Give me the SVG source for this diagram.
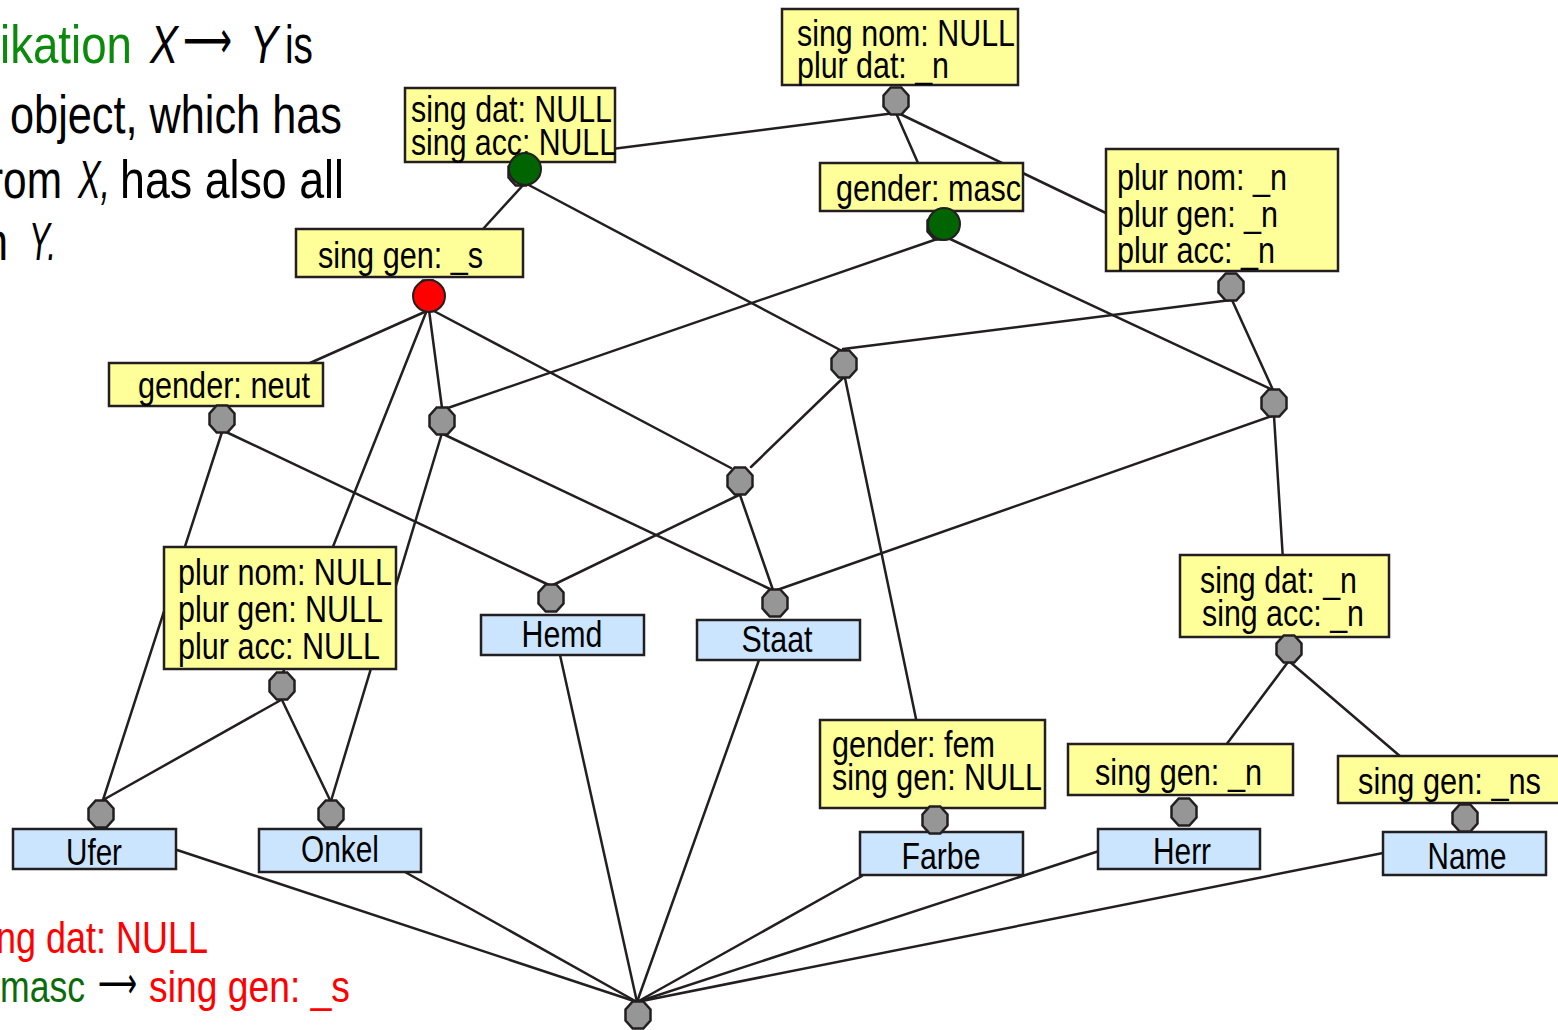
<svg xmlns="http://www.w3.org/2000/svg" xmlns:xlink="http://www.w3.org/1999/xlink" width="1558" height="1030" viewBox="0 0 1558 1030">
<style>
.box{fill:#ffff99;stroke:#231f20;stroke-width:2.5}
.word{fill:#cce5ff;stroke:#231f20;stroke-width:2.5}
.t{font-family:"Liberation Sans Narrow","Liberation Sans",Arial,sans-serif;font-size:37px;fill:#000}
.c{text-anchor:middle}
.big{font-family:"Liberation Sans Narrow","Liberation Sans",Arial,sans-serif;font-size:53px;fill:#000}
.low{font-family:"Liberation Sans Narrow","Liberation Sans",Arial,sans-serif;font-size:44px}
.it{font-style:italic}
.grn{fill:#0b8a0b}
.dgrn{fill:#0b6b0b}
.red{fill:#ff0000}
.arr{font-family:"DejaVu Sans",sans-serif;fill:#000}
#connectors line{stroke:#231f20;stroke-width:2.5;stroke-linecap:round}
.oct{fill:#969696;stroke:#231f20;stroke-width:2.5}
.gdot{fill:#006400;stroke:#231f20;stroke-width:2}
.rdot{fill:#ff0000;stroke:#231f20;stroke-width:2}
</style>
<defs>
<polygon id="oct" points="5.3,-13.5 12.5,-5.6 12.5,5.6 5.3,13.5 -5.3,13.5 -12.5,5.6 -12.5,-5.6 -5.3,-13.5"/>
</defs>
<rect width="1558" height="1030" fill="#ffffff"/>

<g id="text-top">
<text class="big grn" x="0" y="63" textLength="132" lengthAdjust="spacingAndGlyphs">ikation</text>
<text class="big it" x="150" y="63" textLength="28" lengthAdjust="spacingAndGlyphs">X</text>
<text class="big arr" x="183" y="58" textLength="49" lengthAdjust="spacingAndGlyphs">⟶</text>
<text class="big it" x="250" y="63" textLength="28" lengthAdjust="spacingAndGlyphs">Y</text>
<text class="big" x="285" y="63" textLength="28" lengthAdjust="spacingAndGlyphs">is</text>
<text class="big" x="10" y="133" textLength="332" lengthAdjust="spacingAndGlyphs">object, which has</text>
<text class="big" x="-11" y="198" textLength="73" lengthAdjust="spacingAndGlyphs">rom</text>
<text class="big it" x="78" y="198" textLength="32" lengthAdjust="spacingAndGlyphs">X,</text>
<text class="big" x="120" y="198" textLength="224" lengthAdjust="spacingAndGlyphs">has also all</text>
<text class="big" x="-16" y="260" textLength="24" lengthAdjust="spacingAndGlyphs">n</text>
<text class="big it" x="29" y="260" textLength="27" lengthAdjust="spacingAndGlyphs">Y.</text>
</g>

<g id="text-bottom">
<text class="low red" x="-4" y="953" textLength="212" lengthAdjust="spacingAndGlyphs">ng dat: NULL</text>
<text class="low dgrn" x="0" y="1002" textLength="85" lengthAdjust="spacingAndGlyphs">masc</text>
<text class="low arr" x="98" y="998" textLength="39" lengthAdjust="spacingAndGlyphs">⟶</text>
<text class="low red" x="149" y="1002" textLength="201" lengthAdjust="spacingAndGlyphs">sing gen: _s</text>
</g>

<g id="connectors">
<line x1="895" y1="113" x2="525" y2="160"/>
<line x1="896" y1="113" x2="918" y2="163"/>
<line x1="898" y1="113" x2="1108" y2="214"/>
<line x1="525" y1="183" x2="483" y2="229"/>
<line x1="525" y1="183" x2="844" y2="352"/>
<line x1="940" y1="238" x2="442" y2="410"/>
<line x1="948" y1="238" x2="1273" y2="390"/>
<line x1="1231" y1="300" x2="843" y2="349"/>
<line x1="1232" y1="300" x2="1273" y2="390"/>
<line x1="429" y1="310" x2="310" y2="363"/>
<line x1="427" y1="310" x2="282" y2="675"/>
<line x1="429" y1="310" x2="442" y2="408"/>
<line x1="432" y1="310" x2="731" y2="468"/>
<line x1="222" y1="432" x2="103" y2="800"/>
<line x1="224" y1="431" x2="549" y2="585"/>
<line x1="442" y1="433" x2="331" y2="801"/>
<line x1="443" y1="434" x2="772" y2="590"/>
<line x1="843" y1="378" x2="751" y2="467"/>
<line x1="845" y1="378" x2="935" y2="810"/>
<line x1="1272" y1="416" x2="777" y2="590"/>
<line x1="1274" y1="416" x2="1283" y2="560"/>
<line x1="739" y1="495" x2="553" y2="585"/>
<line x1="740" y1="495" x2="773" y2="590"/>
<line x1="281" y1="700" x2="103" y2="800"/>
<line x1="282" y1="700" x2="330" y2="800"/>
<line x1="1288" y1="662" x2="1226" y2="745"/>
<line x1="1290" y1="662" x2="1401" y2="757"/>
<line x1="174" y1="849" x2="637" y2="1002"/>
<line x1="405" y1="872" x2="637" y2="1002"/>
<line x1="560" y1="655" x2="637" y2="1002"/>
<line x1="759" y1="660" x2="637" y2="1002"/>
<line x1="862" y1="876" x2="637" y2="1002"/>
<line x1="1099" y1="851" x2="637" y2="1002"/>
<line x1="1383" y1="853" x2="637" y2="1002"/>
</g>

<g id="n-singnom">
<rect class="box" x="782" y="9" width="236" height="76"/>
<text class="t" x="797" y="46" textLength="218" lengthAdjust="spacingAndGlyphs">sing nom: NULL</text>
<text class="t" x="797" y="78" textLength="152" lengthAdjust="spacingAndGlyphs">plur dat: _n</text>
<use href="#oct" class="oct" x="896" y="101"/>
</g>

<g id="n-singdat-null">
<rect class="box" x="405" y="88" width="210" height="74"/>
<text class="t" x="411" y="122" textLength="201" lengthAdjust="spacingAndGlyphs">sing dat: NULL</text>
<text class="t" x="411" y="155" textLength="205" lengthAdjust="spacingAndGlyphs">sing acc: NULL</text>
<use href="#oct" class="oct" x="521" y="172"/>
<circle class="gdot" cx="525" cy="169" r="16"/>
</g>

<g id="n-masc">
<rect class="box" x="820" y="163" width="203" height="48"/>
<text class="t" x="836" y="201" textLength="185" lengthAdjust="spacingAndGlyphs">gender: masc</text>
<use href="#oct" class="oct" x="940" y="226"/>
<circle class="gdot" cx="944" cy="224" r="16"/>
</g>

<g id="n-plur-n">
<rect class="box" x="1106" y="149" width="232" height="122"/>
<text class="t" x="1117" y="190" textLength="170" lengthAdjust="spacingAndGlyphs">plur nom: _n</text>
<text class="t" x="1117" y="227" textLength="161" lengthAdjust="spacingAndGlyphs">plur gen: _n</text>
<text class="t" x="1117" y="263" textLength="158" lengthAdjust="spacingAndGlyphs">plur acc: _n</text>
<use href="#oct" class="oct" x="1231" y="287"/>
</g>

<g id="n-singgen-s">
<rect class="box" x="296" y="229" width="227" height="48"/>
<text class="t" x="318" y="268" textLength="165" lengthAdjust="spacingAndGlyphs">sing gen: _s</text>
<use href="#oct" class="oct" x="428" y="294"/>
<circle class="rdot" cx="429" cy="296" r="16"/>
</g>

<g id="n-neut">
<rect class="box" x="109" y="363" width="214" height="43"/>
<text class="t" x="138" y="398" textLength="172" lengthAdjust="spacingAndGlyphs">gender: neut</text>
<use href="#oct" class="oct" x="222" y="419"/>
</g>

<g id="n-g"><use href="#oct" class="oct" x="442" y="421"/></g>
<g id="n-h"><use href="#oct" class="oct" x="844" y="364"/></g>
<g id="n-i"><use href="#oct" class="oct" x="1274" y="403"/></g>
<g id="n-j"><use href="#oct" class="oct" x="740" y="481"/></g>

<g id="n-plur-null">
<rect class="box" x="164" y="547" width="232" height="122"/>
<text class="t" x="178" y="585" textLength="214" lengthAdjust="spacingAndGlyphs">plur nom: NULL</text>
<text class="t" x="178" y="622" textLength="205" lengthAdjust="spacingAndGlyphs">plur gen: NULL</text>
<text class="t" x="178" y="659" textLength="202" lengthAdjust="spacingAndGlyphs">plur acc: NULL</text>
<use href="#oct" class="oct" x="282" y="686"/>
</g>

<g id="n-singdat-n">
<rect class="box" x="1180" y="555" width="209" height="82"/>
<text class="t" x="1200" y="593" textLength="157" lengthAdjust="spacingAndGlyphs">sing dat: _n</text>
<text class="t" x="1202" y="626" textLength="162" lengthAdjust="spacingAndGlyphs">sing acc: _n</text>
<use href="#oct" class="oct" x="1289" y="649"/>
</g>

<g id="n-fem">
<rect class="box" x="820" y="720" width="225" height="88"/>
<text class="t" x="832" y="757" textLength="163" lengthAdjust="spacingAndGlyphs">gender: fem</text>
<text class="t" x="832" y="790" textLength="210" lengthAdjust="spacingAndGlyphs">sing gen: NULL</text>
</g>

<g id="n-singgen-n">
<rect class="box" x="1068" y="744" width="225" height="51"/>
<text class="t" x="1095" y="785" textLength="167" lengthAdjust="spacingAndGlyphs">sing gen: _n</text>
</g>

<g id="n-singgen-ns">
<rect class="box" x="1338" y="756" width="225" height="47"/>
<text class="t" x="1358" y="794" textLength="183" lengthAdjust="spacingAndGlyphs">sing gen: _ns</text>
</g>

<g id="n-hemd">
<rect class="word" x="481" y="615" width="163" height="40"/>
<text class="t c" x="562" y="647" textLength="81" lengthAdjust="spacingAndGlyphs">Hemd</text>
<use href="#oct" class="oct" x="551" y="598"/>
</g>

<g id="n-staat">
<rect class="word" x="697" y="620" width="163" height="40"/>
<text class="t c" x="777" y="652" textLength="71" lengthAdjust="spacingAndGlyphs">Staat</text>
<use href="#oct" class="oct" x="775" y="603"/>
</g>

<g id="n-ufer">
<rect class="word" x="13" y="829" width="163" height="40"/>
<text class="t c" x="94" y="865" textLength="56" lengthAdjust="spacingAndGlyphs">Ufer</text>
<use href="#oct" class="oct" x="101" y="814"/>
</g>

<g id="n-onkel">
<rect class="word" x="259" y="829" width="162" height="43"/>
<text class="t c" x="340" y="862" textLength="78" lengthAdjust="spacingAndGlyphs">Onkel</text>
<use href="#oct" class="oct" x="331" y="814"/>
</g>

<g id="n-farbe">
<rect class="word" x="860" y="832" width="163" height="43"/>
<text class="t c" x="941" y="869" textLength="79" lengthAdjust="spacingAndGlyphs">Farbe</text>
<use href="#oct" class="oct" x="935" y="820"/>
</g>

<g id="n-herr">
<rect class="word" x="1098" y="829" width="162" height="40"/>
<text class="t c" x="1182" y="864" textLength="58" lengthAdjust="spacingAndGlyphs">Herr</text>
<use href="#oct" class="oct" x="1184" y="812"/>
</g>

<g id="n-name">
<rect class="word" x="1383" y="832" width="163" height="43"/>
<text class="t c" x="1467" y="869" textLength="79" lengthAdjust="spacingAndGlyphs">Name</text>
<use href="#oct" class="oct" x="1465" y="818"/>
</g>

<g id="n-bottom"><use href="#oct" class="oct" x="638" y="1015"/></g>
</svg>
